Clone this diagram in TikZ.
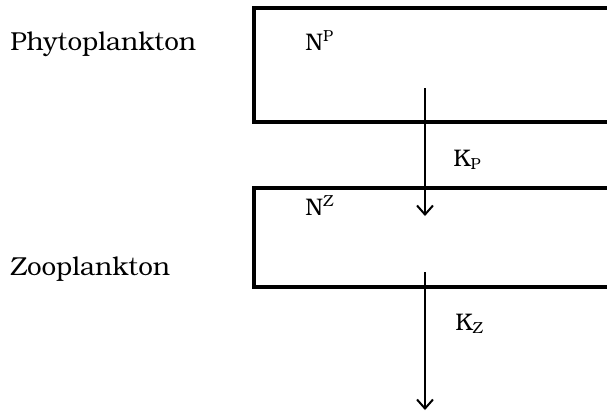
\documentclass[tikz,border=0pt]{standalone}
\usepackage[T1]{fontenc}
\usepackage{bookman}
\usetikzlibrary{arrows.meta}
\begin{document}
\begin{tikzpicture}[x=0.5pt,y=-0.5pt,
  compartment/.style={line width=1.6pt},
  flux/.style={line width=1pt,-{Straight Barb[length=4.5pt,width=8pt,line width=1pt]}},
  organism/.style={anchor=base west,font=\fontsize{13}{15}\selectfont,inner sep=0pt},
  pool/.style={anchor=base west,font=\fontsize{12}{14}\selectfont,inner sep=0pt},
  rate/.style={anchor=base west,font=\fontsize{12}{14}\selectfont,inner sep=0pt}]
\useasboundingbox (0,0) rectangle (607,414);
\begin{scope}
\clip (0,0) rectangle (607,414);
% compartments, open to the right
\draw[compartment] (640,8) -- (254,8) -- (254,122) -- (640,122);
\draw[compartment] (640,188) -- (254,188) -- (254,287) -- (640,287);
\end{scope}
% labels
\node[organism] (phyto) at (10,50) {Phytoplankton};
\node[organism] (zoo) at (10,275) {Zooplankton};
\node[pool] (np) at (305,50) {N\textsuperscript{P}};
\node[pool] (nz) at (305,215) {N\textsuperscript{Z}};
\node[rate] (kp) at (453,166) {K\textsubscript{P}};
\node[rate] (kz) at (455,330) {K\textsubscript{Z}};
% fluxes
\coordinate (a1) at (425,88);
\coordinate (b1) at (425,216);
\coordinate (a2) at (425,272);
\coordinate (b2) at (425,410);
\draw[flux] (a1) -- (b1);
\draw[flux] (a2) -- (b2);
\end{tikzpicture}
\end{document}
